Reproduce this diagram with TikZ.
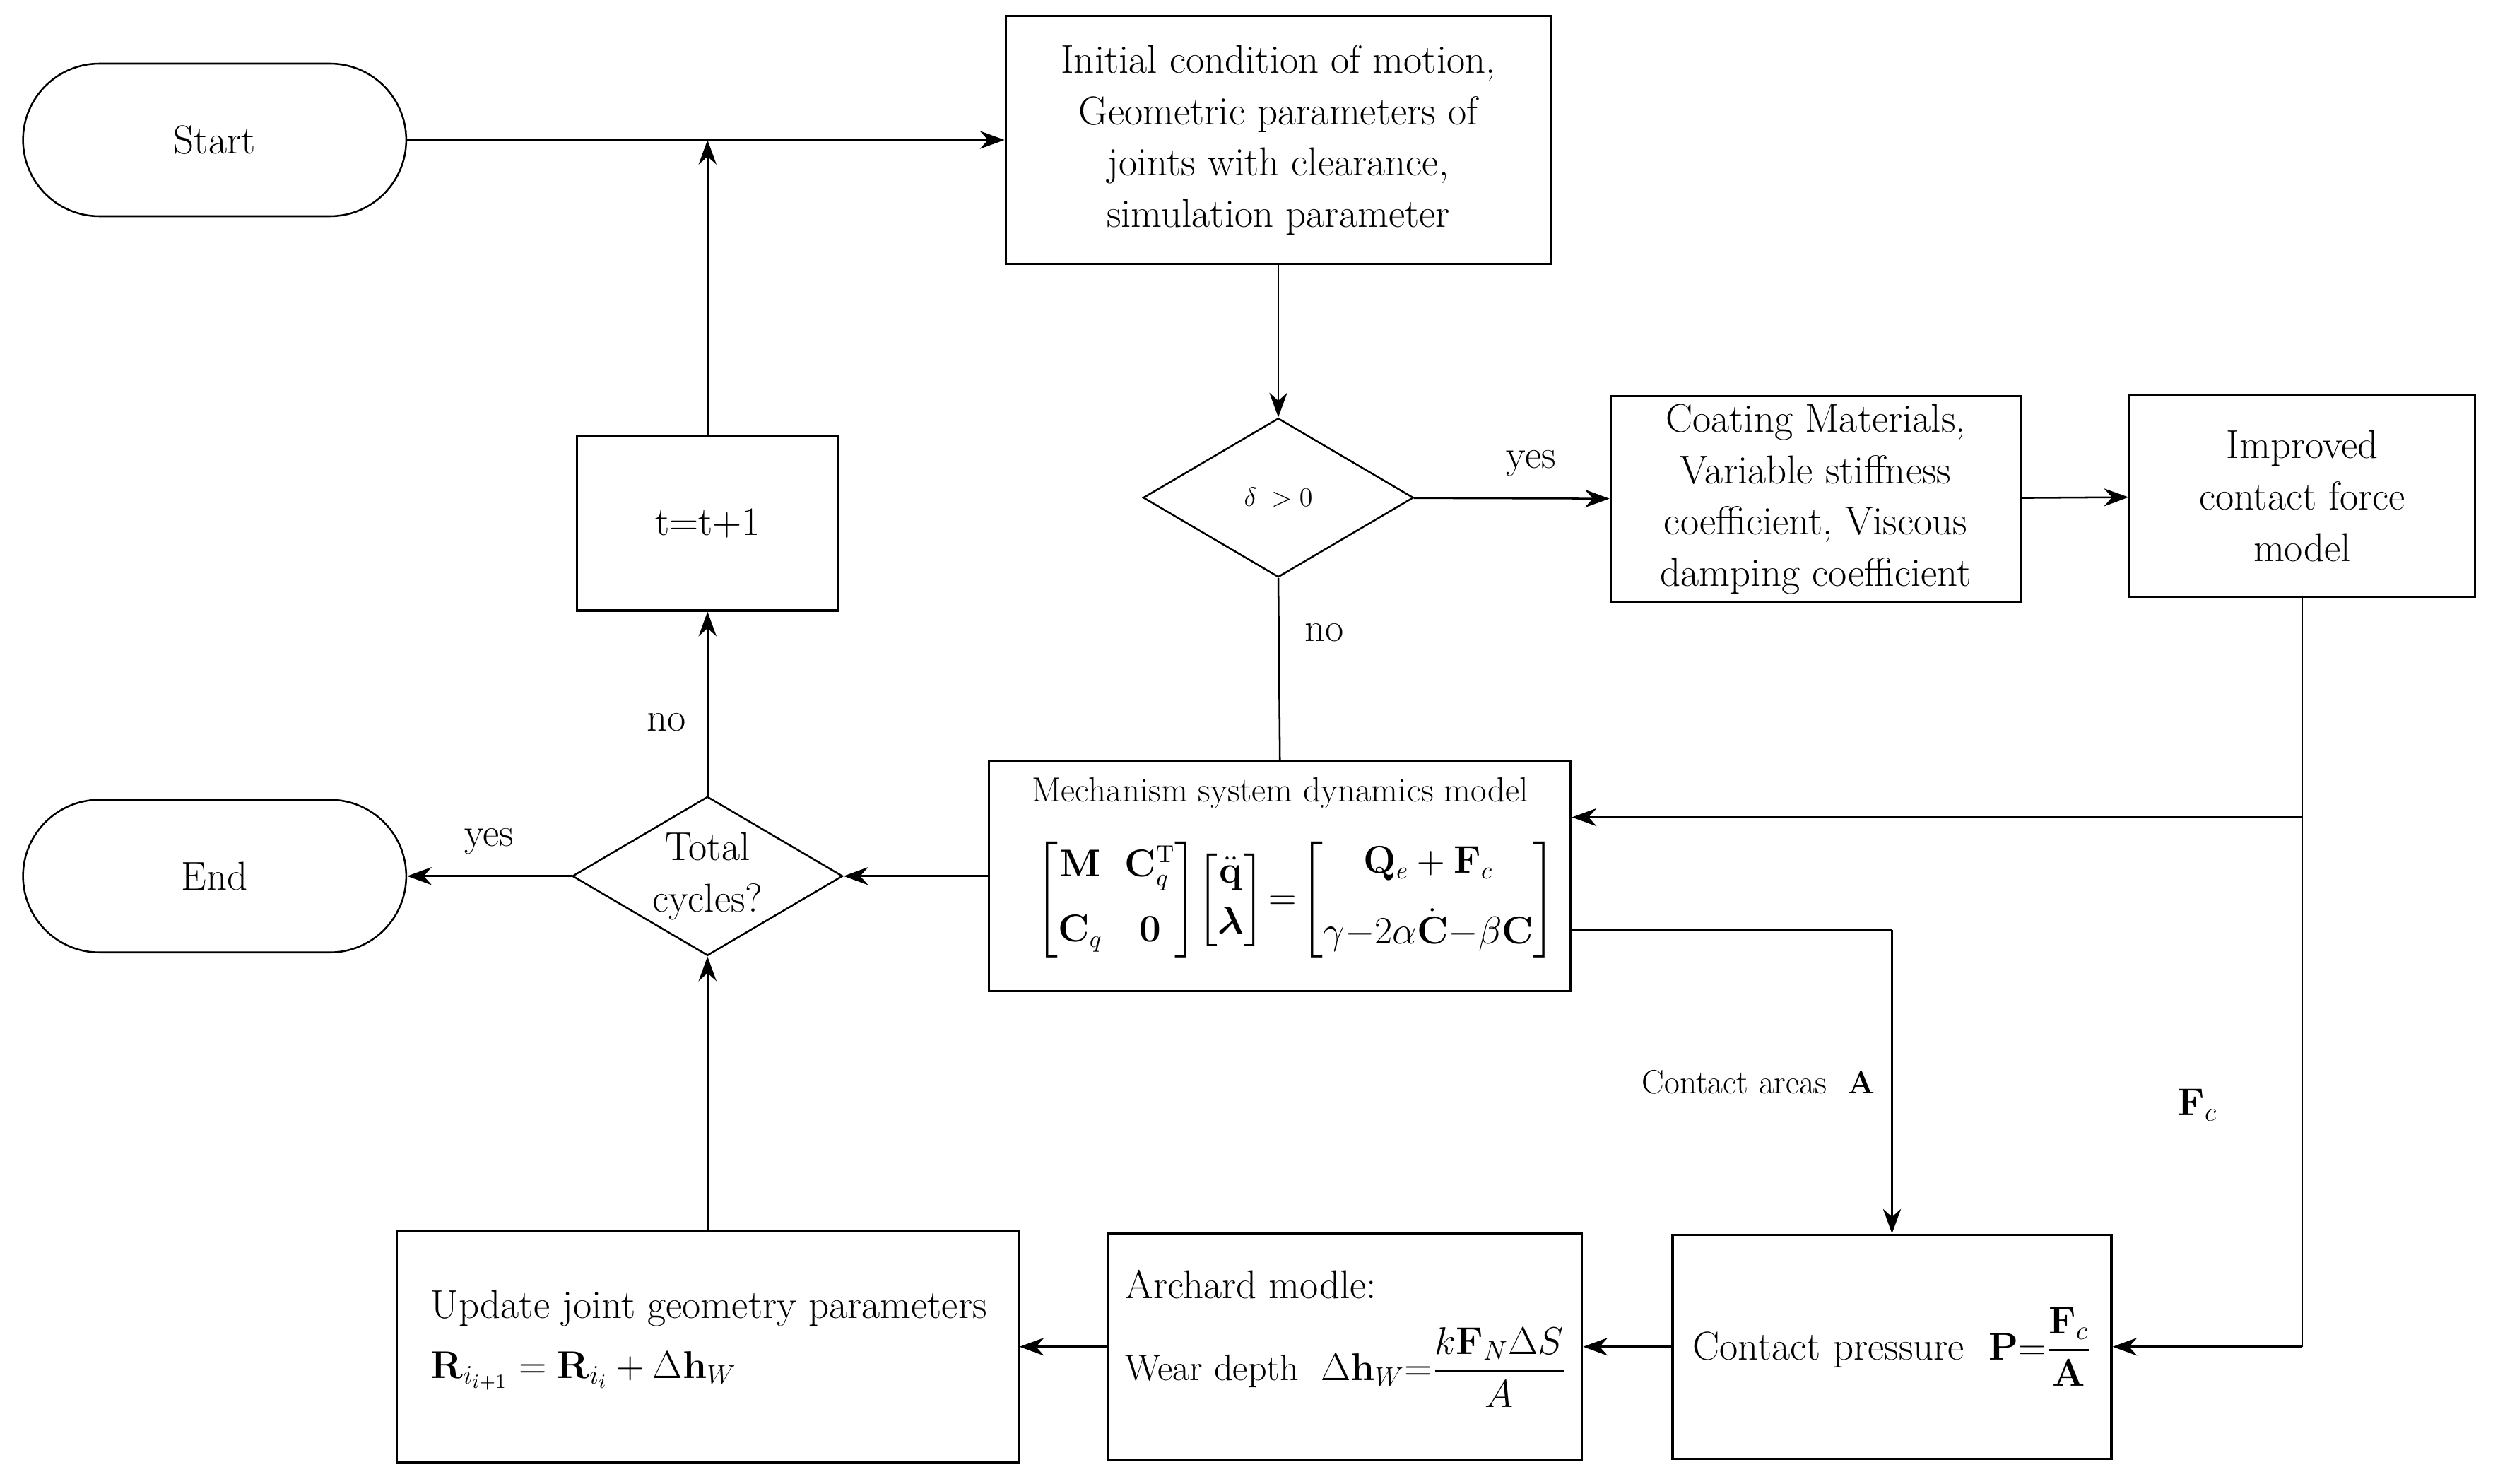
\documentclass[tikz,border=0pt]{standalone}
\usepackage{amsmath,bm}
\usetikzlibrary{shapes.geometric,arrows.meta}
\begin{document}
\begin{tikzpicture}[x=0.025cm,y=-0.025cm,font=\fontsize{18}{23}\selectfont,
 box/.style={draw,line width=1pt,align=center,inner sep=2pt},
 dia/.style={draw,line width=0.8pt,diamond,aspect=1.7,minimum width=170*0.025cm,minimum height=100*0.025cm,inner sep=0pt,align=center},
 term/.style={draw,line width=0.8pt,rounded corners=48*0.025cm,minimum width=241*0.025cm,minimum height=96*0.025cm},
 ar/.style={-{Stealth[length=11pt,width=8pt]},line width=0.8pt},
 ln/.style={line width=0.8pt}]
\useasboundingbox (0,0) rectangle (1568,933);
\node[term] (start) at (135,88) {Start};
\node[box,minimum width=343*0.025cm,minimum height=156*0.025cm] (init) at (804,88) {Initial condition of motion,\\Geometric parameters of\\joints with clearance,\\simulation parameter};
\node[dia] (delta) at (804,313) {\large$\delta\;>0$};
\node[box,minimum width=258*0.025cm,minimum height=130*0.025cm] (coat) at (1142,314) {Coating Materials,\\Variable stiffness\\coefficient, Viscous\\damping coefficient};
\node[box,minimum width=217*0.025cm,minimum height=127*0.025cm] (impr) at (1448,312) {Improved\\contact force\\model};
\node[box,minimum width=164*0.025cm,minimum height=110*0.025cm] (tt) at (445,329) {t=t+1};
\node[box,minimum width=366*0.025cm,minimum height=145*0.025cm] (mech) at (805,551) {};
\node at (805,499) {\fontsize{15.5}{18}\selectfont Mechanism system dynamics model};
\node at (815,566) {\fontsize{16}{19}\selectfont$\begin{bmatrix}\mathbf{M} & \mathbf{C}_q^{\mathrm T}\\[10pt] \mathbf{C}_q & \mathbf{0}\end{bmatrix}\!\begin{bmatrix}\ddot{\mathbf q}\\[4pt] \bm\lambda\end{bmatrix}\!=\!\begin{bmatrix}\mathbf{Q}_e+\mathbf{F}_c\\[10pt] \gamma{-}2\alpha\dot{\mathbf C}{-}\beta\mathbf{C}\end{bmatrix}$};
\node[dia] (tot) at (445,551) {Total\\cycles?};
\node[term] (end) at (135,551) {End};
\node[box,minimum width=391*0.025cm,minimum height=146*0.025cm] (upd) at (445,847) {};
\node[anchor=west] at (266,823) {Update joint geometry parameters};
\node[anchor=west] at (266,862) {$\mathbf{R}_{i_{i+1}}=\mathbf{R}_{i_i}+\Delta\mathbf{h}_W$};
\node[box,minimum width=298*0.025cm,minimum height=142*0.025cm] (arch) at (846,847) {};
\node[anchor=west] at (703,808) {Archard modle:};
\node[anchor=west] at (703,860) {\fontsize{16.5}{20}\selectfont Wear depth \ $\Delta\mathbf{h}_W{=}\dfrac{k\mathbf{F}_N\Delta S}{A}$};
\node[box,minimum width=276*0.025cm,minimum height=141*0.025cm] (cp) at (1190,847) {Contact pressure \ $\mathbf{P}{=}\dfrac{\mathbf{F}_c}{\mathbf{A}}$};
\coordinate (j1) at (445,88);
\coordinate (c1) at (1448,514);
\coordinate (c2) at (1448,847);
\coordinate (m1) at (988,585);
\coordinate (m2) at (1190,585);
\draw[ar] (start) -- (init);
\draw[ar] (init) -- (delta);
\draw[ar] (delta) -- node[above=6pt,pos=0.6]{yes} (coat);
\draw[ar] (coat) -- (impr);
\draw[ln] (delta.south) -- node[right=8pt,pos=0.3]{no} (mech.north);
\draw[ln] (impr.south) -- (c2);
\draw[ar] (c2) -- (cp.east);
\draw[ar] (c1) -- (mech.east|-c1);
\node at (1382,695) {$\mathbf{F}_c$};
\draw[ar] (mech) -- (tot);
\draw[ar] (tot) -- node[above=6pt]{yes} (end);
\draw[ar] (tot) -- node[left=6pt,pos=0.4]{no} (tt);
\draw[ar] (tt) -- (j1);
\draw[ln] (m1) -- (m2);
\draw[ar] (m2) -- node[left=4pt]{\fontsize{15}{18}\selectfont Contact areas \ $\mathbf{A}$} (cp.north);
\draw[ar] (cp) -- (arch);
\draw[ar] (arch) -- (upd);
\draw[ar] (upd) -- (tot);
\end{tikzpicture}
\end{document}
